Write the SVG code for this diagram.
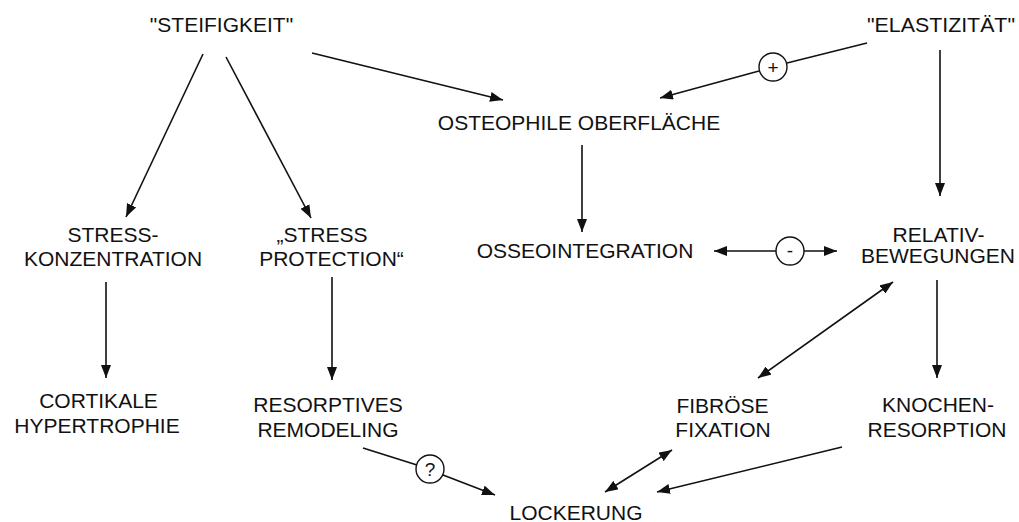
<svg xmlns="http://www.w3.org/2000/svg" width="1019" height="522" viewBox="0 0 1019 522">
<style>
text{font-family:"Liberation Sans",Arial,sans-serif;font-size:21px;fill:#111;text-anchor:middle}
.c line{stroke:#111;stroke-width:1.6;fill:none}
.a{marker-end:url(#ah)}
.b{marker-start:url(#ah);marker-end:url(#ah)}
.sym circle{fill:none;stroke:#111;stroke-width:1.4}
.sym text{font-size:19px}
</style>
<defs>
<marker id="ah" markerUnits="userSpaceOnUse" markerWidth="14" markerHeight="10" refX="13" refY="5" orient="auto-start-reverse">
<path d="M0,0 L13,5 L0,10 z" fill="#111"/>
</marker>
</defs>
<rect width="1019" height="522" fill="#fff"/>
<g class="c" id="connectors">
<line class="a" x1="203" y1="54" x2="126" y2="217"/>
<line class="a" x1="226" y1="57" x2="311" y2="218"/>
<line class="a" x1="312" y1="53" x2="503" y2="100"/>
<line x1="867" y1="43" x2="787" y2="63"/>
<line class="a" x1="759" y1="71" x2="660" y2="98"/>
<line class="a" x1="940" y1="50" x2="940" y2="196"/>
<line class="a" x1="582" y1="145" x2="582" y2="232"/>
<line class="a" x1="106" y1="282" x2="106" y2="378"/>
<line class="a" x1="332" y1="277" x2="332" y2="380"/>
<line class="a" x1="937" y1="280" x2="937" y2="378"/>
<line class="b" x1="893" y1="282" x2="758" y2="378"/>
<line class="a" x1="776" y1="251" x2="714" y2="251"/>
<line class="a" x1="804" y1="251" x2="837" y2="251"/>
<line x1="363" y1="448" x2="417" y2="465"/>
<line class="a" x1="443" y1="475" x2="495" y2="495"/>
<line class="b" x1="672" y1="450" x2="605" y2="492"/>
<line class="a" x1="842" y1="447" x2="657" y2="492"/>
</g>
<g class="sym" id="sym-plus"><circle cx="773" cy="67" r="14"/><text x="773" y="74">+</text></g>
<g class="sym" id="sym-minus"><circle cx="790" cy="251" r="14"/><text x="790" y="257">-</text></g>
<g class="sym" id="sym-q"><circle cx="430" cy="469" r="14"/><text x="430" y="476">?</text></g>
<g id="steifigkeit"><text x="221.5" y="31.5">"STEIFIGKEIT"</text></g>
<g id="elastizitaet"><text x="941" y="31.5" textLength="148" lengthAdjust="spacingAndGlyphs">"ELASTIZITÄT"</text></g>
<g id="osteophile"><text x="579" y="130">OSTEOPHILE OBERFLÄCHE</text></g>
<g id="stresskonz"><text x="113" y="241.7">STRESS-</text><text x="113" y="265.5">KONZENTRATION</text></g>
<g id="stressprot"><text x="322" y="241.7">„STRESS</text><text x="331.5" y="265.5">PROTECTION“</text></g>
<g id="osseo"><text x="585" y="258">OSSEOINTEGRATION</text></g>
<g id="relativ"><text x="938.5" y="242">RELATIV-</text><text x="938" y="263">BEWEGUNGEN</text></g>
<g id="kortikale"><text x="98.5" y="408">CORTIKALE</text><text x="97" y="433">HYPERTROPHIE</text></g>
<g id="resorptives"><text x="328" y="411.7">RESORPTIVES</text><text x="328" y="436.7">REMODELING</text></g>
<g id="fibrose"><text x="722.5" y="412.7">FIBRÖSE</text><text x="723" y="436.7">FIXATION</text></g>
<g id="knochen"><text x="938" y="412">KNOCHEN-</text><text x="937" y="436.7">RESORPTION</text></g>
<g id="lockerung"><text x="576" y="519.5">LOCKERUNG</text></g>
</svg>
